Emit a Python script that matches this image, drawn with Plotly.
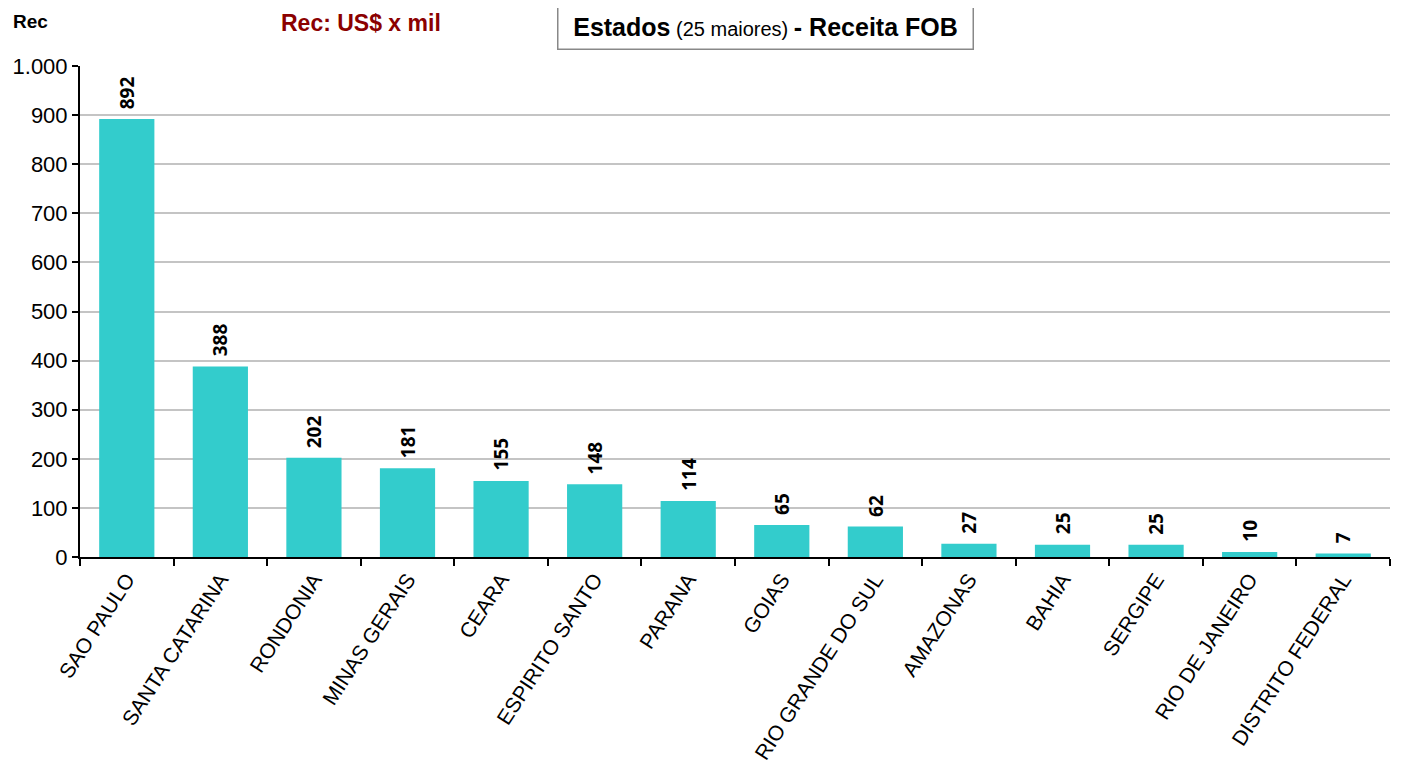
import plotly.graph_objects as go

estados = ["SAO PAULO", "SANTA CATARINA", "RONDONIA", "MINAS GERAIS", "CEARA",
           "ESPIRITO SANTO", "PARANA", "GOIAS", "RIO GRANDE DO SUL", "AMAZONAS",
           "BAHIA", "SERGIPE", "RIO DE JANEIRO", "DISTRITO FEDERAL"]
receita = [892, 388, 202, 181, 155, 148, 114, 65, 62, 27, 25, 25, 10, 7]
y_ticks = [0, 100, 200, 300, 400, 500, 600, 700, 800, 900, 1000]

# page has an 8px body margin; figure coordinates = page coordinates - 8
OFF = 8
W, H = 1390, 762
ML, MT = 80 - OFF, 66 - OFF
MR = W - (1390 - OFF)
MB = H - (557 - OFF)

fig = go.Figure()
fig.add_trace(go.Bar(
    x=estados, y=receita,
    marker=dict(color="#33CCCC", line=dict(width=0)),
    width=0.59,
    hoverinfo="x+y",
))

# value labels, placed through the axes' scales
for cat, val in zip(estados, receita):
    fig.add_annotation(
        x=cat, y=val, xref="x", yref="y",
        text=f"<b>{val}</b>", textangle=-90,
        showarrow=False, yanchor="bottom", xanchor="center", yshift=8,
        font=dict(family="Open Sans", size=19, color="black"),
    )

pw = W - ML - MR
ph = H - MT - MB
def px(xp):
    return (xp - OFF - ML) / pw
def py(yp):
    return (H - MB - (yp - OFF)) / ph

fig.add_annotation(text="<b>Rec</b>", x=px(11), y=py(22), xref="paper", yref="paper",
                   xanchor="left", yanchor="middle", showarrow=False,
                   font=dict(family="Liberation Sans", size=19, color="black"))
fig.add_annotation(text="<b>Rec: US$ x mil</b>", x=px(361), y=py(23), xref="paper", yref="paper",
                   xanchor="center", yanchor="middle", showarrow=False,
                   font=dict(family="Liberation Sans", size=23, color="#8B0000"))
fig.add_annotation(
    text="<b>Estados</b><span style='font-size:20px'> (25 maiores) </span><b>- Receita FOB</b>",
    x=px(765), y=py(27), xref="paper", yref="paper",
    xanchor="center", yanchor="middle", showarrow=False,
    font=dict(family="Liberation Sans", size=25, color="black"),
    width=404, height=34, align="center", valign="middle",
    bordercolor="#888888", borderwidth=1.5, borderpad=5, bgcolor="white",
)

fig.update_layout(
    width=W, height=H,
    margin=dict(l=ML, r=MR, t=MT, b=MB),
    plot_bgcolor="white", paper_bgcolor="white",
    separators=",.",
    showlegend=False,
    font=dict(family="Liberation Sans", color="black"),
    xaxis=dict(
        tickangle=-57,
        tickfont=dict(family="Liberation Sans", size=21, color="black"),
        showline=True, linecolor="black", linewidth=2,
        ticks="outside", ticklen=7, tickwidth=2, tickcolor="black",
        tickson="boundaries",
        showgrid=False, automargin=False,
    ),
    yaxis=dict(
        range=[0, 1000],
        tickvals=y_ticks,
        tickformat=",d",
        tickfont=dict(family="Liberation Sans", size=22, color="black"),
        showline=True, linecolor="black", linewidth=2,
        ticks="outside", ticklen=6, tickwidth=2, tickcolor="black",
        showgrid=True, gridcolor="#c4c4c4", gridwidth=2,
        zeroline=False, automargin=False,
    ),
)

fig.write_html("out.html")
